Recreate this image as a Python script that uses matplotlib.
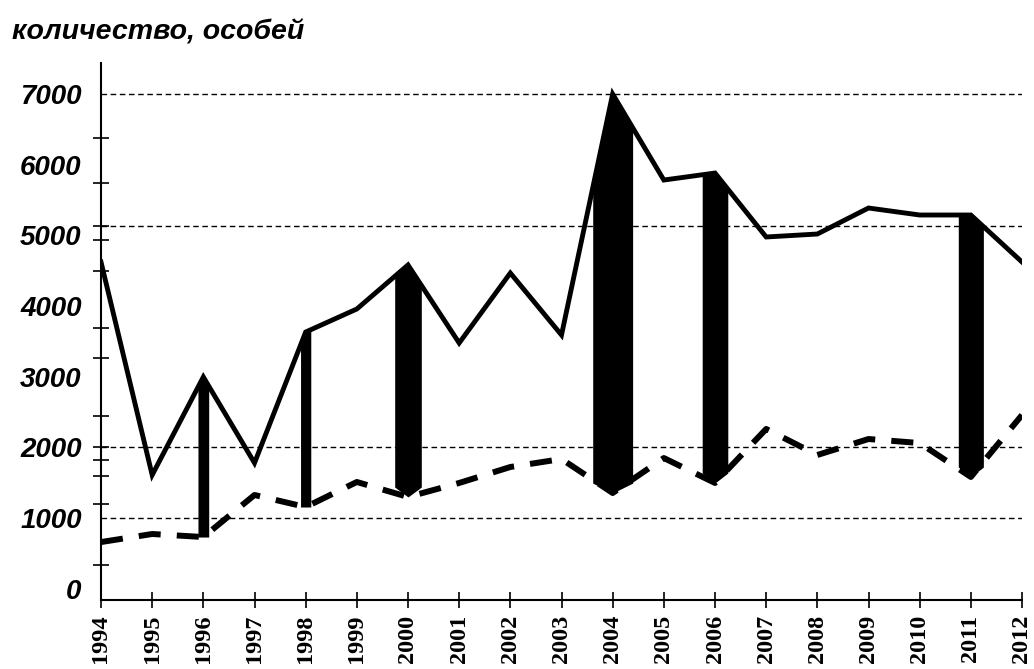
import numpy as np
import matplotlib
matplotlib.use("Agg")
import matplotlib.pyplot as plt

# ---- data ----
years = list(range(1994, 2013))
total_count = [4623, 1609, 2996, 1779, 3632, 3958, 4581, 3477, 4467, 3590,
               7000, 5783, 5882, 4977, 5019, 5387, 5288, 5288, 4623]
lower_count = [660, 774, 731, 1326, 1156, 1510, 1298, 1496, 1722, 1835,
               1354, 1849, 1496, 2260, 1892, 2118, 2061, 1581, 2458]
arrow_years = [1996, 1998, 2000, 2004, 2006, 2011]
y_tick_values = [0, 1000, 2000, 3000, 4000, 5000, 6000, 7000]
y_tick_labels = ["0", "1000", "2000", "3000", "4000", "5000", "6000", "7000"]
grid_levels = [1000, 2000, 5132, 7000]
y_minor_ticks = [335, 1000, 1199, 1595, 1821, 2005, 2444, 3265, 3689,
                 4495, 4934, 5132, 5741, 6376, 7000]
title_text = "количество, особей"

# ---- styles ----
arrow_widths = [0.21, 0.2, 0.52, 0.78, 0.5, 0.49]
arrow_tip_depth = 140

fig = plt.figure(figsize=(10.34, 6.69), dpi=100)
ax = fig.add_axes([101 / 1034, 69 / 669, 921 / 1034, 537 / 669])

x_arr = np.array(years, dtype=float)
tot = np.array(total_count, dtype=float)
low = np.array(lower_count, dtype=float)

# grid lines
for g in grid_levels:
    ax.axhline(g, color="black", lw=1.0, ls=(0, (4, 2.6)), zorder=1)

# arrows (filled bands between the two series)
for yr, w in zip(arrow_years, arrow_widths):
    xs = np.linspace(yr - w / 2, yr + w / 2, 60)
    up = np.interp(xs, x_arr, tot)
    base = np.interp(yr, x_arr, low)
    depth = arrow_tip_depth if w > 0.3 else 0
    lo = base + depth * np.abs(xs - yr) / (w / 2)
    ax.fill_between(xs, lo, up, color="black", lw=0, zorder=3)

ax.plot(x_arr, tot, color="black", lw=3.5, solid_joinstyle="miter", zorder=4)
ax.plot(x_arr, low, color="black", lw=4.3, ls=(0, (3.7, 2.7)),
        dash_capstyle="butt", zorder=4)

ax.set_xlim(1994, 2012)
ax.set_ylim(-160, 7439)

for s in ["top", "right"]:
    ax.spines[s].set_visible(False)
for s in ["left", "bottom"]:
    ax.spines[s].set_linewidth(1.5)

ax.set_xticks(years)
ax.set_xticklabels([str(y) for y in years], rotation=90,
                   fontfamily="Liberation Serif", fontweight="bold", fontsize=17.5)
ax.tick_params(axis="x", direction="inout", length=11, width=1.2, pad=5)

ax.set_yticks(y_tick_values)
ax.set_yticklabels(y_tick_labels, fontfamily="Liberation Sans",
                   fontweight="bold", fontstyle="italic", fontsize=20)
ax.tick_params(axis="y", which="major", length=0, pad=14)
ax.set_yticks(y_minor_ticks, minor=True)
ax.tick_params(axis="y", which="minor", direction="inout", length=11, width=1.2)

fig.text(12 / 1034, 1 - 40 / 669, title_text, fontfamily="Liberation Sans",
         fontweight="bold", fontstyle="italic", fontsize=20.5, va="baseline")

fig.savefig("out.png", dpi=100)
